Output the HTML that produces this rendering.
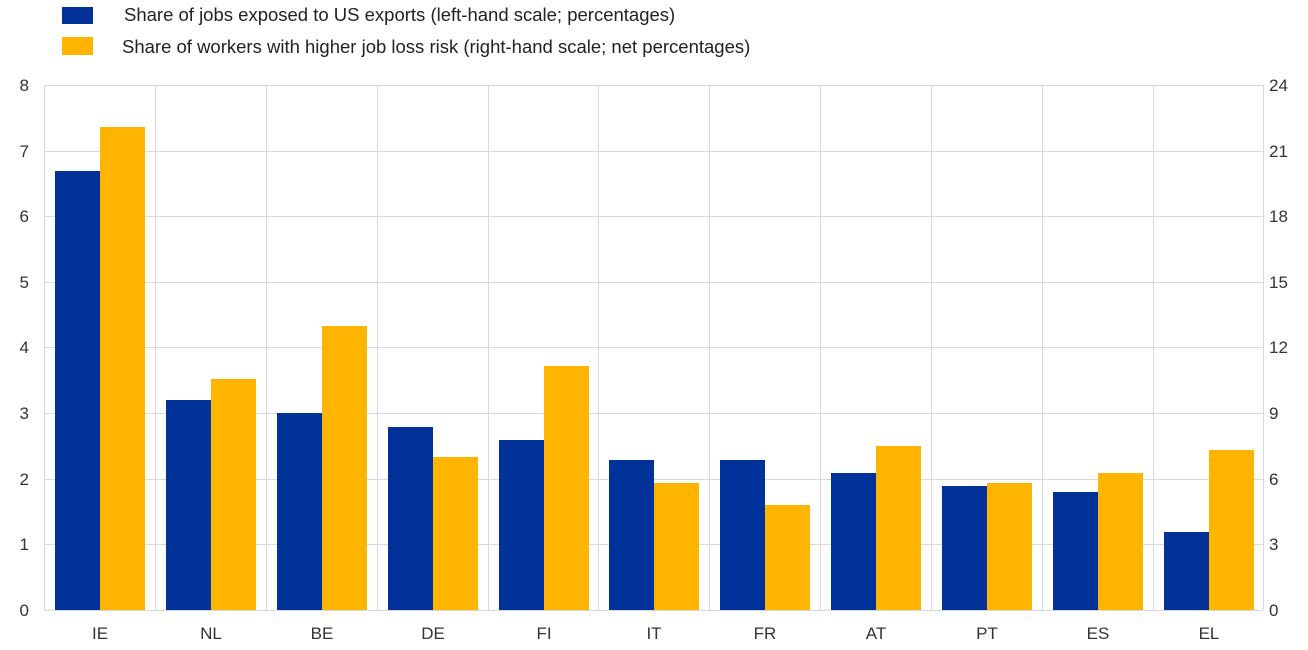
<!DOCTYPE html>
<html><head><meta charset="utf-8"><style>
html,body{margin:0;padding:0;background:#fff;}
svg{display:block;font-family:"Liberation Sans",Arial,sans-serif;}
</style></head><body>
<svg width="1308" height="650" viewBox="0 0 1308 650" xmlns="http://www.w3.org/2000/svg">
<rect x="62" y="7" width="31" height="17" fill="#003299"/>
<text x="124" y="21" font-size="18.5" fill="#222">Share of jobs exposed to US exports (left-hand scale; percentages)</text>
<rect x="62" y="37" width="31" height="18" fill="#FFB400"/>
<text x="122" y="53" font-size="18.5" fill="#222">Share of workers with higher job loss risk (right-hand scale; net percentages)</text>
<g stroke="#d9d9d9" stroke-width="1">
<line x1="44" x2="1263" y1="85.5" y2="85.5"/>
<line x1="44" x2="1263" y1="151.5" y2="151.5"/>
<line x1="44" x2="1263" y1="216.5" y2="216.5"/>
<line x1="44" x2="1263" y1="282.5" y2="282.5"/>
<line x1="44" x2="1263" y1="347.5" y2="347.5"/>
<line x1="44" x2="1263" y1="413.5" y2="413.5"/>
<line x1="44" x2="1263" y1="479.5" y2="479.5"/>
<line x1="44" x2="1263" y1="544.5" y2="544.5"/>
<line x1="44" x2="1263" y1="610.5" y2="610.5"/>
<line x1="44.5" x2="44.5" y1="85" y2="610"/>
<line x1="155.5" x2="155.5" y1="85" y2="610"/>
<line x1="266.5" x2="266.5" y1="85" y2="610"/>
<line x1="377.5" x2="377.5" y1="85" y2="610"/>
<line x1="488.5" x2="488.5" y1="85" y2="610"/>
<line x1="598.5" x2="598.5" y1="85" y2="610"/>
<line x1="709.5" x2="709.5" y1="85" y2="610"/>
<line x1="820.5" x2="820.5" y1="85" y2="610"/>
<line x1="931.5" x2="931.5" y1="85" y2="610"/>
<line x1="1042.5" x2="1042.5" y1="85" y2="610"/>
<line x1="1153.5" x2="1153.5" y1="85" y2="610"/>
<line x1="1263.5" x2="1263.5" y1="85" y2="610"/>
</g>
<g fill="#003299">
<rect x="55" y="171" width="45" height="439"/>
<rect x="166" y="400" width="45" height="210"/>
<rect x="277" y="413" width="45" height="197"/>
<rect x="388" y="427" width="45" height="183"/>
<rect x="499" y="440" width="45" height="170"/>
<rect x="609" y="460" width="45" height="150"/>
<rect x="720" y="460" width="45" height="150"/>
<rect x="831" y="473" width="45" height="137"/>
<rect x="942" y="486" width="45" height="124"/>
<rect x="1053" y="492" width="45" height="118"/>
<rect x="1164" y="532" width="45" height="78"/>
</g>
<g fill="#FFB400">
<rect x="100" y="127" width="45" height="483"/>
<rect x="211" y="379" width="45" height="231"/>
<rect x="322" y="326" width="45" height="284"/>
<rect x="433" y="457" width="45" height="153"/>
<rect x="544" y="366" width="45" height="244"/>
<rect x="654" y="483" width="45" height="127"/>
<rect x="765" y="505" width="45" height="105"/>
<rect x="876" y="446" width="45" height="164"/>
<rect x="987" y="483" width="45" height="127"/>
<rect x="1098" y="473" width="45" height="137"/>
<rect x="1209" y="450" width="45" height="160"/>
</g>
<g font-size="17" fill="#333" text-anchor="end">
<text x="29" y="91">8</text><text x="29" y="157">7</text><text x="29" y="222">6</text>
<text x="29" y="288">5</text><text x="29" y="353">4</text><text x="29" y="419">3</text>
<text x="29" y="485">2</text><text x="29" y="550">1</text><text x="29" y="616">0</text>
</g>
<g font-size="17" fill="#333" text-anchor="start">
<text x="1269" y="91">24</text><text x="1269" y="157">21</text><text x="1269" y="222">18</text>
<text x="1269" y="288">15</text><text x="1269" y="353">12</text><text x="1269" y="419">9</text>
<text x="1269" y="485">6</text><text x="1269" y="550">3</text><text x="1269" y="616">0</text>
</g>
<g font-size="17" fill="#333" text-anchor="middle">
<text x="100" y="639">IE</text><text x="211" y="639">NL</text><text x="322" y="639">BE</text>
<text x="433" y="639">DE</text><text x="544" y="639">FI</text><text x="654" y="639">IT</text>
<text x="765" y="639">FR</text><text x="876" y="639">AT</text><text x="987" y="639">PT</text>
<text x="1098" y="639">ES</text><text x="1209" y="639">EL</text>
</g>
</svg>
</body></html>
